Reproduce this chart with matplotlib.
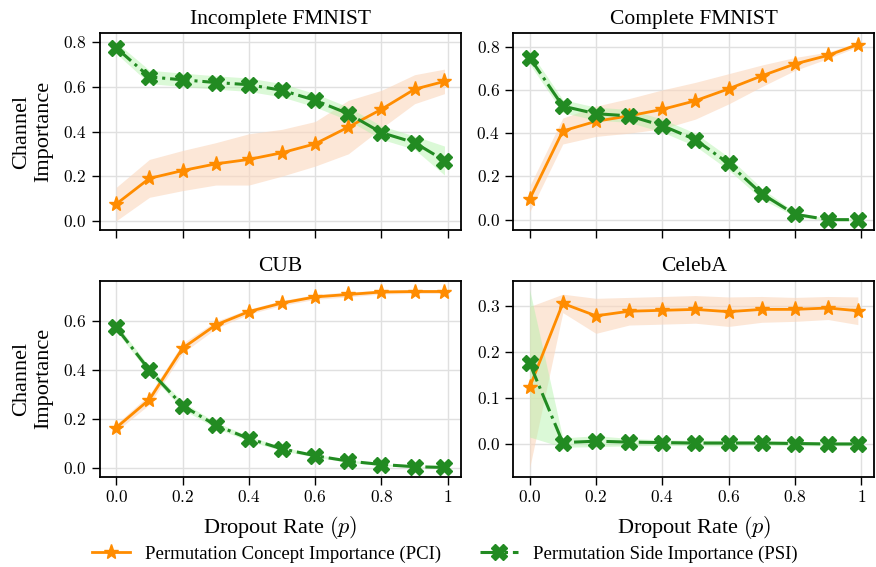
import matplotlib
matplotlib.use("Agg")
import matplotlib.pyplot as plt
import numpy as np

plt.rcParams['font.family'] = ['Liberation Serif', 'DejaVu Serif']
plt.rcParams['mathtext.fontset'] = 'cm'

dropout = [0.0, 0.1, 0.2, 0.3, 0.4, 0.5, 0.6, 0.7, 0.8, 0.9, 0.99]
xtick_vals = [0.0, 0.2, 0.4, 0.6, 0.8, 1.0]
xtick_labels = ["0.0", "0.2", "0.4", "0.6", "0.8", "1"]
ytick_sets = [[0.0, 0.2, 0.4, 0.6, 0.8], [0.0, 0.2, 0.4, 0.6, 0.8],
              [0.0, 0.2, 0.4, 0.6], [0.0, 0.1, 0.2, 0.3]]

titles = ["Incomplete FMNIST", "Complete FMNIST", "CUB", "CelebA"]

# mean values and spread (std) per dataset
pci_incomplete = [0.075, 0.19, 0.225, 0.255, 0.275, 0.305, 0.345, 0.42, 0.50, 0.59, 0.625]
pci_incomplete_sd = [0.075, 0.085, 0.09, 0.095, 0.115, 0.105, 0.10, 0.12, 0.085, 0.065, 0.055]
psi_incomplete = [0.775, 0.645, 0.632, 0.62, 0.61, 0.585, 0.54, 0.48, 0.395, 0.35, 0.27]
psi_incomplete_sd = [0.025, 0.03, 0.03, 0.03, 0.03, 0.03, 0.03, 0.03, 0.03, 0.03, 0.065]

pci_complete = [0.095, 0.41, 0.455, 0.48, 0.51, 0.55, 0.605, 0.665, 0.72, 0.76, 0.81]
pci_complete_sd = [0.06, 0.06, 0.07, 0.08, 0.09, 0.085, 0.07, 0.05, 0.03, 0.015, 0.01]
psi_complete = [0.75, 0.525, 0.49, 0.48, 0.435, 0.37, 0.26, 0.12, 0.025, 0.0, 0.0]
psi_complete_sd = [0.03, 0.03, 0.03, 0.03, 0.03, 0.03, 0.03, 0.025, 0.01, 0.005, 0.005]

pci_cub = [0.165, 0.28, 0.49, 0.585, 0.64, 0.675, 0.70, 0.71, 0.72, 0.722, 0.722]
pci_cub_sd = [0.015, 0.02, 0.02, 0.015, 0.01, 0.01, 0.01, 0.01, 0.008, 0.008, 0.008]
psi_cub = [0.575, 0.40, 0.255, 0.175, 0.12, 0.078, 0.05, 0.028, 0.014, 0.005, 0.002]
psi_cub_sd = [0.015, 0.015, 0.015, 0.012, 0.01, 0.008, 0.006, 0.005, 0.004, 0.003, 0.002]

pci_celeba = [0.123, 0.305, 0.278, 0.288, 0.29, 0.292, 0.287, 0.292, 0.292, 0.295, 0.289]
pci_celeba_sd = [0.175, 0.02, 0.038, 0.03, 0.03, 0.03, 0.032, 0.028, 0.026, 0.025, 0.03]
psi_celeba = [0.175, 0.003, 0.006, 0.004, 0.003, 0.002, 0.002, 0.002, 0.001, 0.0, 0.0]
psi_celeba_sd = [0.16, 0.01, 0.012, 0.008, 0.006, 0.006, 0.006, 0.005, 0.005, 0.004, 0.004]

pci_all = [(pci_incomplete, pci_incomplete_sd), (pci_complete, pci_complete_sd),
           (pci_cub, pci_cub_sd), (pci_celeba, pci_celeba_sd)]
psi_all = [(psi_incomplete, psi_incomplete_sd), (psi_complete, psi_complete_sd),
           (psi_cub, psi_cub_sd), (psi_celeba, psi_celeba_sd)]

orange = "#ff8c00"
green = "#228b22"

fig, axes = plt.subplots(2, 2, figsize=(8.76, 5.67), dpi=100, sharex=True)
fig.subplots_adjust(left=0.114, right=0.998, top=0.941, bottom=0.159,
                    wspace=0.145, hspace=0.26)

x = np.array(dropout)
for i, ax in enumerate(axes.flat):
    m, s = np.array(pci_all[i][0]), np.array(pci_all[i][1])
    ax.fill_between(x, m - s, m + s, color="#fbd7bd", alpha=0.6, lw=0)
    l1, = ax.plot(x, m, color=orange, ls="-", lw=2, marker="*", ms=11,
                  label="Permutation Concept Importance (PCI)")
    m, s = np.array(psi_all[i][0]), np.array(psi_all[i][1])
    ax.fill_between(x, m - s, m + s, color="#b0f2a8", alpha=0.45, lw=0)
    l2, = ax.plot(x, m, color=green, ls="-.", lw=2.2, marker="X", ms=11,
                  label="Permutation Side Importance (PSI)")
    ax.set_title(titles[i], fontsize=15.5, pad=7)
    ax.grid(True, color="#e0e0e0", lw=1)
    ax.set_axisbelow(True)
    ax.set_xticks(xtick_vals, labels=["$%s$" % t for t in xtick_labels])
    ax.set_yticks(ytick_sets[i], labels=["$%.1f$" % v for v in ytick_sets[i]])
    ax.tick_params(labelsize=12.5, direction="out", length=6, width=1)
    for sp in ax.spines.values():
        sp.set_linewidth(1.3)

for ax in axes[:, 0]:
    ax.set_ylabel("Channel\nImportance", fontsize=16, labelpad=7)
for ax in axes[1, :]:
    ax.set_xlabel("Dropout Rate $(p)$", fontsize=16, labelpad=6)

fig.legend(handles=[l1, l2], loc="lower center", ncol=2, frameon=False,
           fontsize=13.5, bbox_to_anchor=(0.508, -0.022), columnspacing=2.1,
           handletextpad=0.8)

plt.savefig("out.png", dpi=100)
